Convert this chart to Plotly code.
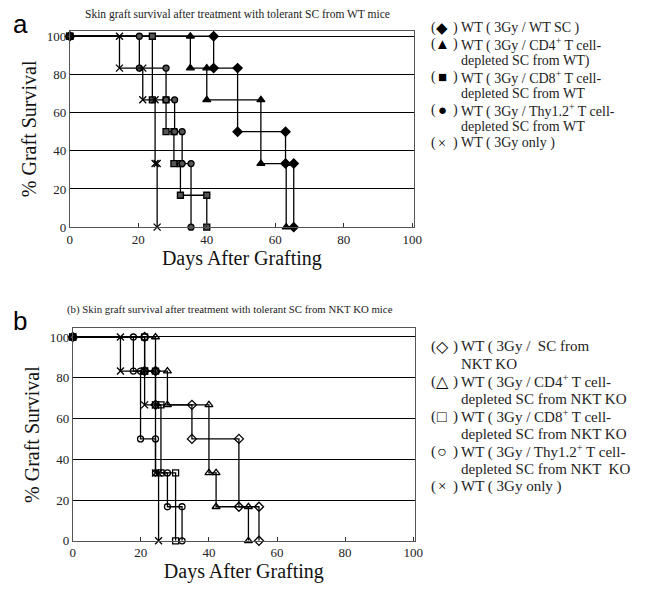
import plotly.graph_objects as go

# ---------------- data (event days and survival after each event) ----------------
# Panel a: tolerant SC from WT mice
a_wt_sc_days = [42, 49, 63, 65.4]
a_wt_sc_surv = [83.3, 50, 33.3, 0]
a_cd4_days = [35.2, 40, 55.8, 63.2]
a_cd4_surv = [83.3, 66.7, 33.3, 0]
a_cd8_days = [24.1, 28.1, 30.4, 32.3, 40]
a_cd8_surv = [66.7, 50, 33.3, 16.7, 0]
a_thy_days = [20.3, 28.1, 30.6, 32.8, 35.4]
a_thy_surv = [83.3, 66.7, 50, 33.3, 0]
a_only_days = [14.5, 21.3, 24.9, 25.5]
a_only_surv = [83.3, 66.7, 33.3, 0]

# Panel b: tolerant SC from NKT KO mice
b_sc_days = [21.1, 24.3, 35, 48.8, 54.7]
b_sc_surv = [83.3, 66.7, 50, 16.7, 0]
b_cd4_days = [24.3, 27.8, 40, 42.1, 51.6]
b_cd4_surv = [83.3, 66.7, 33.3, 16.7, 0]
b_cd8_days = [21.1, 24.3, 25.9, 30.2]
b_cd8_surv = [83.3, 66.7, 33.3, 0]
b_thy_days = [17.8, 19.9, 24.3, 27.8, 32.1]
b_thy_surv = [83.3, 50, 33.3, 16.7, 0]
b_only_days = [14, 21.1, 24.3, 25.2]
b_only_surv = [83.3, 66.7, 33.3, 0]

x_ticks = [0, 20, 40, 60, 80, 100]
y_ticks = [0, 20, 40, 60, 80, 100]

title_a = "Skin graft survival after treatment with tolerant SC from WT mice"
title_b = "(b) Skin graft survival after treatment with tolerant SC from NKT KO mice"
# (marker glyph, text)  -- glyph "" means continuation line
legend_a = [
    ("\u25c6", "WT ( 3Gy / WT SC )"),
    ("\u25b2", "WT ( 3Gy / CD4<sup>+</sup> T cell-"),
    ("", "depleted SC from WT)"),
    ("\u25a0", "WT ( 3Gy / CD8<sup>+</sup> T cell-"),
    ("", "depleted SC from WT"),
    ("\u25cf", "WT ( 3Gy / Thy1.2<sup>+</sup> T cell-"),
    ("", "depleted SC from WT"),
    ("\u00d7", "WT ( 3Gy only )"),
]
legend_b = [
    ("\u25c7", "WT ( 3Gy /  SC from"),
    ("", "NKT KO"),
    ("\u25b3", "WT ( 3Gy / CD4<sup>+</sup> T cell-"),
    ("", "depleted SC from NKT KO"),
    ("\u25a1", "WT ( 3Gy / CD8<sup>+</sup> T cell-"),
    ("", "depleted SC from NKT KO"),
    ("\u25cb", "WT ( 3Gy / Thy1.2<sup>+</sup> T cell-"),
    ("", "depleted SC from NKT  KO"),
    ("\u00d7", "WT ( 3Gy only )"),
]


def steps(days, surv):
    xs, ys = [0], [100]
    cur = 100
    for d, s in zip(days, surv):
        xs += [d, d]
        ys += [cur, s]
        cur = s
    return xs, ys


SERIF = "Liberation Serif"
fig = go.Figure()

series_a = [
    (a_wt_sc_days, a_wt_sc_surv, "diamond", "black", 7),
    (a_cd4_days, a_cd4_surv, "triangle-up", "black", 7),
    (a_cd8_days, a_cd8_surv, "square", "#555555", 6),
    (a_thy_days, a_thy_surv, "circle", "#555555", 6),
    (a_only_days, a_only_surv, "x-thin", "black", 7),
]
series_b = [
    (b_sc_days, b_sc_surv, "diamond-open", "black", 7),
    (b_cd4_days, b_cd4_surv, "triangle-up-open", "black", 7),
    (b_cd8_days, b_cd8_surv, "square-open", "black", 6),
    (b_thy_days, b_thy_surv, "circle-open", "black", 6),
    (b_only_days, b_only_surv, "x-thin", "black", 7),
]

for (d, s, sym, col, sz) in series_a:
    xs, ys = steps(d, s)
    fig.add_trace(go.Scatter(x=xs, y=ys, mode="lines+markers", xaxis="x", yaxis="y",
                             line=dict(color="black", width=1.3),
                             marker=dict(symbol=sym, size=sz, color=col,
                                         line=dict(color="black", width=1.3)),
                             cliponaxis=False, showlegend=False, hoverinfo="skip"))
for (d, s, sym, col, sz) in series_b:
    xs, ys = steps(d, s)
    fig.add_trace(go.Scatter(x=xs, y=ys, mode="lines+markers", xaxis="x2", yaxis="y2",
                             line=dict(color="black", width=1.3),
                             marker=dict(symbol=sym, size=sz, color=col,
                                         line=dict(color="black", width=1.3)),
                             cliponaxis=False, showlegend=False, hoverinfo="skip"))

W, H = 648, 596


def xax(l, r):
    return dict(domain=[l / W, r / W], range=[0, 100.5], tickvals=x_ticks,
                ticks="inside", ticklen=4, tickcolor="#333", showgrid=False,
                zeroline=False, showline=True, linecolor="#555", linewidth=1, mirror=True,
                tickfont=dict(family=SERIF, size=13, color="#222"),
                title=dict(text="Days After Grafting", font=dict(family=SERIF, size=20, color="#111"),
                           standoff=2))


def yax(top, bot, rng, anchor):
    return dict(domain=[1 - bot / H, 1 - top / H], range=[0, rng], tickvals=y_ticks,
                ticks="", showgrid=True, gridcolor="black", gridwidth=1,
                zeroline=False, showline=True, linecolor="#555", linewidth=1, mirror=True,
                tickfont=dict(family=SERIF, size=13, color="#222"), anchor=anchor,
                title=dict(text="% Graft Survival", font=dict(family=SERIF, size=20, color="#111"),
                           standoff=4))


fig.update_layout(
    width=W, height=H, margin=dict(l=0, r=0, t=0, b=0),
    paper_bgcolor="white", plot_bgcolor="white", showlegend=False,
    xaxis=dict(xax(68, 418), anchor="y"),
    yaxis=yax(29, 229, 103, "x"),
    xaxis2=dict(xax(71, 419), anchor="y2"),
    yaxis2=yax(332, 548, 104.2, "x2"),
)

ann = []


def txt(t, x, y, size, family=SERIF, xanchor="left", color="#222"):
    ann.append(dict(text=t, x=x / W, y=1 - y / H, xref="paper", yref="paper", showarrow=False,
                    xanchor=xanchor, yanchor="middle", font=dict(family=family, size=size, color=color)))


txt("a", 8, 22, 26, family="Liberation Sans", color="black")
txt("b", 8, 324, 26, family="Liberation Sans", color="black")
txt(title_a, 239, 13, 11.5, xanchor="center")
txt(title_b, 231, 313, 10.8, xanchor="center")


def legend(items, y0, dy, size):
    for i, (g, t) in enumerate(items):
        y = y0 + i * dy
        if g:
            txt("(", 433, y, size)
            txt(g, 447, y, size if g == "\u00d7" else size + 1, xanchor="center", color="black")
            txt(")", 456, y, size)
        txt(t, 464, y, size)


legend(legend_a, 26, 16.8, 14)
legend(legend_b, 350.7, 17.7, 15)
fig.update_layout(annotations=ann)

fig.write_html("out.html", config={"displayModeBar": False},
               post_script="document.body.style.margin='0';")
